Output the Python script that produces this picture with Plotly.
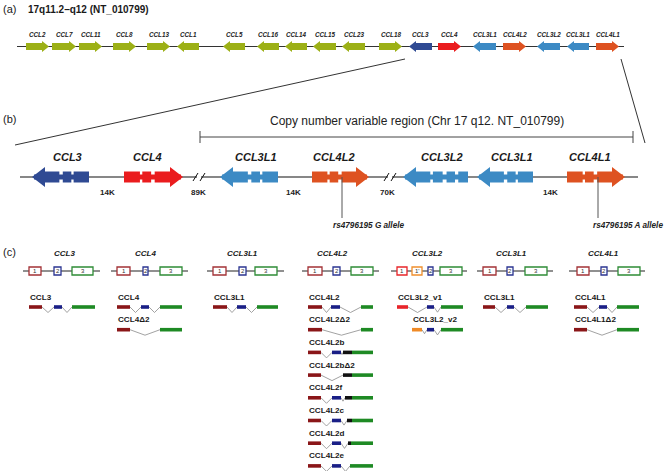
import plotly.graph_objects as go

# ---- panel (a): chemokine cluster 17q11.2-q12
A_NAMES = ["CCL2", "CCL7", "CCL11", "CCL8", "CCL13", "CCL1", "CCL5", "CCL16", "CCL14", "CCL15",
           "CCL23", "CCL18", "CCL3", "CCL4", "CCL3L1", "CCL4L2", "CCL3L2", "CCL3L1", "CCL4L1"]
A_START = [26, 52, 79, 113, 147, 177, 223, 257, 285, 313, 342, 379, 409, 438, 473, 503, 537, 567, 596]
A_END = [49, 76, 102, 136, 170, 199, 245, 279, 307, 336, 365, 402, 432, 461, 496, 526, 560, 589, 619]
A_DIR = [1, 1, 1, 1, 1, -1, -1, -1, -1, -1, -1, 1, -1, 1, -1, 1, -1, -1, 1]
A_FAM = ["other"] * 12 + ["ccl3", "ccl4", "ccl3l", "ccl4l", "ccl3l", "ccl3l", "ccl4l"]

# ---- panel (b): copy number variable region
B_NAMES = ["CCL3", "CCL4", "CCL3L1", "CCL4L2", "CCL3L2", "CCL3L1", "CCL4L1"]
B_START = [32, 124, 220, 312, 403, 477, 567]
B_END = [89, 183, 278, 369, 468, 533, 625]
B_DIR = [-1, 1, -1, 1, -1, -1, 1]
B_FAM = ["ccl3", "ccl4", "ccl3l", "ccl4l", "ccl3l", "ccl3l", "ccl4l"]
B_NEXON = [3, 3, 3, 3, 4, 3, 3]
B_GAP_LABELS = ["14K", "89K", "14K", "70K", "14K"]
B_GAP_X = [107, 198, 293, 387, 550]
B_BREAK_X = [199, 390]
SNP_X = [342, 598]
SNP_LABELS = ["rs4796195 G allele", "rs4796195 A allele"]
SNP_LABEL_X = [332, 592]
CNV_RANGE = [200, 633]

# ---- panel (c): exon structures and transcripts
C_GENES = ["CCL3", "CCL4", "CCL3L1", "CCL4L2", "CCL3L2", "CCL3L1", "CCL4L1"]
C_TITLE_X = [64, 145, 242, 332, 427, 511, 603]
C_LINE = [(23, 100), (111, 188), (207, 284), (302, 379), (391, 467), (477, 553), (569, 645)]
C_EXONS = [
    [("1", "1", 29, 41), ("2", "2", 54, 61), ("3", "3", 72, 93)],
    [("1", "1", 117, 130), ("2", "2", 143, 148), ("3", "3", 160, 182)],
    [("1", "1", 213, 226), ("2", "2", 239, 246), ("3", "3", 255, 277)],
    [("1", "1", 308, 322), ("2", "2", 333, 340), ("3", "3", 351, 373)],
    [("1", "1r", 397, 407), ("1'", "1p", 412, 422), ("2", "2", 428, 433), ("3", "3", 440, 462)],
    [("1", "1", 483, 496), ("2", "2", 507, 513), ("3", "3", 525, 547)],
    [("1", "1", 577, 589), ("2", "2", 601, 607), ("3", "3", 618, 640)],
]
TX_NAMES = ["CCL3", "CCL4", "CCL4Δ2", "CCL3L1", "CCL4L2", "CCL4L2Δ2", "CCL4L2b", "CCL4L2bΔ2",
            "CCL4L2f", "CCL4L2c", "CCL4L2d", "CCL4L2e", "CCL3L2_v1", "CCL3L2_v2", "CCL3L1",
            "CCL4L1", "CCL4L1Δ2"]
TX_ROW = [0, 0, 1, 0, 0, 1, 2, 3, 4, 5, 6, 7, 0, 1, 0, 0, 1]
TX_SEGS = [
    [(29, 42, "1"), (54, 62, "2"), (72, 95, "3")],
    [(117, 130, "1"), (141, 149, "2"), (160, 182, "3")],
    [(117, 130, "1"), (160, 182, "3")],
    [(213, 227, "1"), (237, 246, "2"), (257, 278, "3")],
    [(308, 322, "1"), (331, 340, "2"), (361, 373, "3")],
    [(308, 322, "1"), (361, 373, "3")],
    [(308, 321, "1"), (332, 341, "2"), (343, 352, "k"), (352, 373, "3")],
    [(308, 321, "1"), (343, 352, "k"), (352, 373, "3")],
    [(308, 321, "1"), (332, 341, "2"), (345, 352, "k"), (352, 373, "3")],
    [(308, 321, "1"), (332, 341, "2"), (347, 352, "k"), (352, 373, "3")],
    [(308, 321, "1"), (332, 341, "2"), (348, 351, "k"), (351, 373, "3")],
    [(308, 321, "1"), (332, 341, "2"), (350, 373, "3")],
    [(397, 408, "1r"), (427, 434, "2"), (441, 463, "3")],
    [(412, 422, "1p"), (427, 434, "2"), (441, 463, "3")],
    [(483, 495, "1"), (507, 514, "2"), (526, 548, "3")],
    [(574, 587, "1"), (599, 607, "2"), (617, 639, "3")],
    [(574, 587, "1"), (617, 639, "3")],
]

FAM_COL = {"other": "#9CB016", "ccl3": "#2F4A93", "ccl4": "#EA1C1E",
           "ccl3l": "#3C8AC4", "ccl4l": "#DE5221"}
BOX_COL = {"1": "#A33236", "1r": "#E8262A", "1p": "#EF8F2C", "2": "#2B3591", "3": "#2E8C36"}
BAR_COL = {"1": "#8A1618", "1r": "#E8242A", "1p": "#EF8A26", "2": "#1A1F86", "3": "#1E8A24", "k": "#111111"}
FONT = "Liberation Sans, Arial, sans-serif"

shapes = []
annos = []


def line(x0, y0, x1, y1, color="#222", w=1.0):
    shapes.append(dict(type="line", xref="x", yref="y", x0=x0, y0=y0, x1=x1, y1=y1,
                       line=dict(color=color, width=w)))


def poly(pts, fill, lw=0, lc=None):
    path = "M " + " L ".join(f"{x:.2f},{y:.2f}" for x, y in pts) + " Z"
    shapes.append(dict(type="path", xref="x", yref="y", path=path, fillcolor=fill,
                       line=dict(width=lw, color=lc or fill)))


def rect(x0, y0, x1, y1, fill, lw=0, lc=None):
    shapes.append(dict(type="rect", xref="x", yref="y", x0=x0, y0=y0, x1=x1, y1=y1,
                       fillcolor=fill, line=dict(width=lw, color=lc or fill)))


def text(x, y, s, size, anchor="center", color="#1a1a1a", bold=False, italic=False):
    if italic:
        s = f"<i>{s}</i>"
    if bold:
        s = f"<b>{s}</b>"
    annos.append(dict(x=x, y=y, xref="x", yref="y", text=s, showarrow=False, xanchor=anchor,
                      yanchor="middle", borderpad=0,
                      font=dict(family=FONT, size=size, color=color)))


def arrow(x0, x1, yc, bh, hh, hl, d, fill):
    if d == 1:
        b = x1 - hl
        pts = [(x0, yc - bh / 2), (b, yc - bh / 2), (b, yc - hh / 2), (x1, yc),
               (b, yc + hh / 2), (b, yc + bh / 2), (x0, yc + bh / 2)]
    else:
        b = x0 + hl
        pts = [(x1, yc - bh / 2), (b, yc - bh / 2), (b, yc - hh / 2), (x0, yc),
               (b, yc + hh / 2), (b, yc + bh / 2), (x1, yc + bh / 2)]
    poly(pts, fill)


# ---------- panel (a)
text(2, 9, "(a)", 11, anchor="left")
text(27, 9, "17q11.2–q12 (NT_010799)", 10, anchor="left", bold=True)
line(17, 46.5, 624, 46.5, "#333", 1)
for name, s, e, d, fam in zip(A_NAMES, A_START, A_END, A_DIR, A_FAM):
    arrow(s, e, 46.5, 7, 11, 7, d, FAM_COL[fam])
    text((s + e) / 2, 34, name, 6.3, bold=True, italic=True, color="#222")

# connectors from (a) to (b)
line(15, 145, 405, 59, "#333", 1)
line(621, 59, 645, 143, "#333", 1)

# ---------- panel (b)
text(2, 119, "(b)", 11, anchor="left")
text((CNV_RANGE[0] + CNV_RANGE[1]) / 2, 121, "Copy number variable region (Chr 17 q12. NT_010799)", 12,
     color="#222")
line(CNV_RANGE[0], 137, CNV_RANGE[1], 137, "#444", 1)
line(CNV_RANGE[0], 131, CNV_RANGE[0], 143, "#444", 1)
line(CNV_RANGE[1], 131, CNV_RANGE[1], 143, "#444", 1)

BY = 177
line(20, BY, 638, BY, "#111", 1.2)
FRACS = {3: [(0, 0.27), (0.31, 0.46), (0.52, 1.0)],
         4: [(0, 0.15), (0.2, 0.33), (0.39, 0.54), (0.58, 1.0)]}
HL = 13
for name, s, e, d, fam, n in zip(B_NAMES, B_START, B_END, B_DIR, B_FAM, B_NEXON):
    col = FAM_COL[fam]
    L = e - s
    rect(s + 2, BY - 2.5, e - 2, BY + 2.5, col)
    for i, (f0, f1) in enumerate(FRACS[n]):
        if d == 1:
            a, b = s + f0 * L, s + f1 * L
        else:
            a, b = e - f1 * L, e - f0 * L
        if i == n - 1:
            arrow(a, b, BY, 11, 20, HL, d, col)
        else:
            rect(a, BY - 5.5, b, BY + 5.5, col)
    lx = (s + e - HL) / 2 if d == 1 else (s + HL + e) / 2
    text(lx, 157, name, 11, bold=True, italic=True, color="#1a1a1a")

for gx, gl in zip(B_GAP_X, B_GAP_LABELS):
    text(gx, 192, gl, 8, bold=True, color="#222")
for bx in B_BREAK_X:
    rect(bx - 2, BY - 1, bx + 2, BY + 1, "white")
    line(bx - 6, BY + 4, bx - 1, BY - 4, "#111", 1)
    line(bx + 1, BY + 4, bx + 6, BY - 4, "#111", 1)
for sx, sl, tx in zip(SNP_X, SNP_LABELS, SNP_LABEL_X):
    line(sx, BY, sx, 218, "#555", 1)
    text(tx, 225, sl, 8.2, anchor="left", bold=True, italic=True, color="#222")

# ---------- panel (c)
text(2, 252, "(c)", 11, anchor="left")
CY = 271
for gname, tx, (l0, l1), exons in zip(C_GENES, C_TITLE_X, C_LINE, C_EXONS):
    text(tx, 253, gname, 8, bold=True, italic=True, color="#1a1a1a")
    line(l0, CY, l1, CY, "#222", 1.2)
    for lab, key, x0, x1 in exons:
        rect(x0, CY - 4, x1, CY + 4, "white", 1.3, BOX_COL[key])
        text((x0 + x1) / 2, CY, lab, 6, color="#333")

for name, row, segs in zip(TX_NAMES, TX_ROW, TX_SEGS):
    ly = 297 + 22.7 * row
    by = ly + 10
    text(segs[0][0], ly, name, 8.1, anchor="left", bold=True, color="#1a1a1a")
    for (a0, a1, k0), (b0, b1, k1) in zip(segs[:-1], segs[1:]):
        gap = b0 - a1
        if gap > 0.5:
            dip = min(5.5, 1 + gap * 0.6)
            mid = (a1 + b0) / 2
            line(a1, by, mid, by + dip, "#8a8a8a", 0.8)
            line(mid, by + dip, b0, by, "#8a8a8a", 0.8)
    for x0, x1, k in segs:
        rect(x0, by - 1.8, x1, by + 1.8, BAR_COL[k])

fig = go.Figure(go.Scatter(x=[0, 666], y=[0, 471], mode="markers", marker=dict(opacity=0),
                           hoverinfo="skip"))
fig.update_layout(width=666, height=471, margin=dict(l=0, r=0, t=0, b=0),
                  paper_bgcolor="white", plot_bgcolor="white", showlegend=False,
                  shapes=shapes, annotations=annos)
fig.update_xaxes(range=[0, 666], visible=False, fixedrange=True)
fig.update_yaxes(range=[471, 0], visible=False, fixedrange=True)
# drop the page's default body margin so the figure sits at the window's corner
fig.write_html("out.html", config={"displayModeBar": False},
               post_script="document.body.style.margin='0px';")
